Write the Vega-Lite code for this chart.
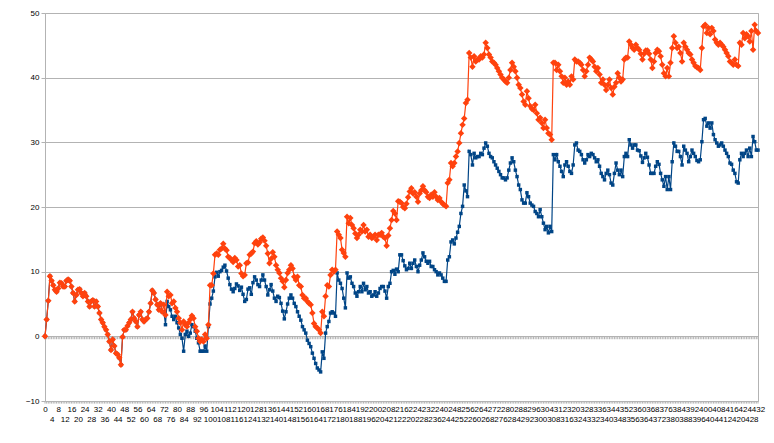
{
"$schema":"https://vega.github.io/schema/vega-lite/v6.json",
"width":713,"height":388,
"autosize":"none",
"padding":{"left":45,"top":13,"right":16,"bottom":42},
"config":{"view":{"stroke":"#b3b3b3","strokeWidth":1},"font":"Liberation Sans"},
"data":{"values":[
{"i":0,"a":0,"b":0},{"i":1,"a":2.6,"b":2.6},{"i":2,"a":5.5,"b":5.5},{"i":3,"a":9.3,"b":9.3},{"i":4,"a":8.6,"b":8.6},{"i":5,"a":7.9,"b":7.9},{"i":6,"a":7.2,"b":7.2},{"i":7,"a":6.9,"b":6.9},{"i":8,"a":7.4,"b":7.4},{"i":9,"a":8.3,"b":8.3},
{"i":10,"a":8.2,"b":8.2},{"i":11,"a":7.7,"b":7.7},{"i":12,"a":7.7,"b":7.7},{"i":13,"a":8.6,"b":8.6},{"i":14,"a":8.8,"b":8.8},{"i":15,"a":8.6,"b":8.6},{"i":16,"a":7.7,"b":7.7},{"i":17,"a":6.7,"b":6.7},{"i":18,"a":5.4,"b":5.4},{"i":19,"a":6.4,"b":6.4},
{"i":20,"a":7.2,"b":7.2},{"i":21,"a":7.3,"b":7.3},{"i":22,"a":6.7,"b":6.7},{"i":23,"a":6.2,"b":6.2},{"i":24,"a":6.7,"b":6.7},{"i":25,"a":6.2,"b":6.2},{"i":26,"a":5.4,"b":5.4},{"i":27,"a":4.6,"b":4.6},{"i":28,"a":5.4,"b":5.4},{"i":29,"a":5.6,"b":5.6},
{"i":30,"a":4.6,"b":4.6},{"i":31,"a":5.4,"b":5.4},{"i":32,"a":4.6,"b":4.6},{"i":33,"a":3.6,"b":3.6},{"i":34,"a":2.6,"b":2.6},{"i":35,"a":2.1,"b":2.1},{"i":36,"a":1.5,"b":1.5},{"i":37,"a":1.0,"b":1.0},{"i":38,"a":0.3,"b":0.3},{"i":39,"a":-0.8,"b":-0.8},
{"i":40,"a":-2.1,"b":-2.1},{"i":41,"a":-0.5,"b":-0.5},{"i":42,"a":-1.5,"b":-1.5},{"i":43,"a":-2.6,"b":-2.6},{"i":44,"a":-2.8,"b":-2.8},{"i":45,"a":-3.3,"b":-3.3},{"i":46,"a":-4.4,"b":-4.4},{"i":47,"a":-0.1,"b":-0.1},{"i":48,"a":1.0,"b":1.0},{"i":49,"a":1.0,"b":1.0},
{"i":50,"a":1.6,"b":1.6},{"i":51,"a":2.1,"b":2.1},{"i":52,"a":2.6,"b":2.6},{"i":53,"a":3.8,"b":3.8},{"i":54,"a":2.8,"b":2.8},{"i":55,"a":2.3,"b":2.3},{"i":56,"a":1.5,"b":1.5},{"i":57,"a":3.3,"b":3.3},{"i":58,"a":3.8,"b":3.8},{"i":59,"a":2.6,"b":2.6},
{"i":60,"a":2.3,"b":2.3},{"i":61,"a":2.6,"b":2.6},{"i":62,"a":2.8,"b":2.8},{"i":63,"a":3.8,"b":3.8},{"i":64,"a":5.1,"b":5.1},{"i":65,"a":7.1,"b":7.1},{"i":66,"a":6.7,"b":6.7},{"i":67,"a":5.7,"b":5.7},{"i":68,"a":4.9,"b":4.9},{"i":69,"a":4.1,"b":4.1},
{"i":70,"a":5.1,"b":5.1},{"i":71,"a":3.8,"b":3.8},{"i":72,"a":4.9,"b":3.8},{"i":73,"a":3.3,"b":1.8},{"i":74,"a":6.9,"b":5.4},{"i":75,"a":6.2,"b":4.6},{"i":76,"a":6.4,"b":4.1},{"i":77,"a":5.1,"b":3.1},{"i":78,"a":5.4,"b":2.6},{"i":79,"a":4.4,"b":3.1},
{"i":80,"a":3.8,"b":2.1},{"i":81,"a":2.8,"b":1.3},{"i":82,"a":2.1,"b":0.3},{"i":83,"a":1.0,"b":-0.3},{"i":84,"a":2.3,"b":-2.3},{"i":85,"a":1.8,"b":0.3},{"i":86,"a":1.5,"b":0.8},{"i":87,"a":2.1,"b":0.0},{"i":88,"a":2.6,"b":0.5},{"i":89,"a":3.2,"b":1.8},
{"i":90,"a":2.8,"b":1.5},{"i":91,"a":1.5,"b":0.8},{"i":92,"a":0.8,"b":-0.3},{"i":93,"a":-0.3,"b":-1.0},{"i":94,"a":-0.8,"b":-2.3},{"i":95,"a":-0.5,"b":-2.3},{"i":96,"a":-0.8,"b":-2.3},{"i":97,"a":0.3,"b":-1.5},{"i":98,"a":-0.3,"b":-2.3},{"i":99,"a":1.8,"b":1.5},
{"i":100,"a":7.9,"b":5.0},{"i":101,"a":7.9,"b":5.9},{"i":102,"a":9.7,"b":7.0},{"i":103,"a":12.6,"b":9.2},{"i":104,"a":12.8,"b":9.9},{"i":105,"a":12.6,"b":9.3},{"i":106,"a":13.4,"b":10.0},{"i":107,"a":13.6,"b":10.2},{"i":108,"a":14.3,"b":10.7},{"i":109,"a":13.6,"b":11.0},
{"i":110,"a":13.3,"b":10.1},{"i":111,"a":12.3,"b":9.0},{"i":112,"a":12.1,"b":8.0},{"i":113,"a":11.8,"b":7.3},{"i":114,"a":11.5,"b":6.9},{"i":115,"a":12.1,"b":7.4},{"i":116,"a":11.8,"b":8.1},{"i":117,"a":10.8,"b":7.8},{"i":118,"a":11.0,"b":7.1},{"i":119,"a":9.7,"b":7.6},
{"i":120,"a":9.3,"b":6.5},{"i":121,"a":9.5,"b":5.4},{"i":122,"a":11.3,"b":5.7},{"i":123,"a":11.4,"b":7.3},{"i":124,"a":12.6,"b":7.5},{"i":125,"a":12.8,"b":6.5},{"i":126,"a":13.1,"b":8.3},{"i":127,"a":14.4,"b":9.2},{"i":128,"a":14.7,"b":8.7},{"i":129,"a":14.2,"b":8.0},
{"i":130,"a":14.5,"b":7.7},{"i":131,"a":15.1,"b":8.7},{"i":132,"a":15.3,"b":9.5},{"i":133,"a":14.8,"b":8.7},{"i":134,"a":14.0,"b":7.7},{"i":135,"a":12.8,"b":6.4},{"i":136,"a":11.3,"b":7.2},{"i":137,"a":12.0,"b":8.0},{"i":138,"a":13.0,"b":7.0},{"i":139,"a":12.3,"b":5.9},
{"i":140,"a":11.0,"b":5.4},{"i":141,"a":10.3,"b":6.2},{"i":142,"a":9.8,"b":6.0},{"i":143,"a":9.0,"b":5.1},{"i":144,"a":8.5,"b":3.9},{"i":145,"a":7.6,"b":2.7},{"i":146,"a":8.7,"b":3.8},{"i":147,"a":9.8,"b":5.0},{"i":148,"a":10.3,"b":5.9},{"i":149,"a":11.0,"b":6.4},
{"i":150,"a":10.5,"b":5.9},{"i":151,"a":9.2,"b":5.1},{"i":152,"a":8.7,"b":4.6},{"i":153,"a":9.2,"b":3.8},{"i":154,"a":7.9,"b":3.1},{"i":155,"a":7.7,"b":2.5},{"i":156,"a":6.4,"b":1.5},{"i":157,"a":5.9,"b":1.0},{"i":158,"a":5.9,"b":0.5},{"i":159,"a":5.4,"b":-0.6},
{"i":160,"a":5.1,"b":-1.1},{"i":161,"a":4.9,"b":-1.6},{"i":162,"a":3.6,"b":-2.6},{"i":163,"a":2.0,"b":-3.4},{"i":164,"a":1.5,"b":-4.2},{"i":165,"a":1.3,"b":-4.9},{"i":166,"a":1.0,"b":-5.2},{"i":167,"a":0.5,"b":-5.5},{"i":168,"a":3.8,"b":-2.4},{"i":169,"a":3.1,"b":-3.4},
{"i":170,"a":6.2,"b":0.5},{"i":171,"a":7.9,"b":1.5},{"i":172,"a":7.7,"b":2.3},{"i":173,"a":9.5,"b":3.6},{"i":174,"a":10.3,"b":3.8},{"i":175,"a":10.0,"b":3.6},{"i":176,"a":10.3,"b":3.1},{"i":177,"a":16.2,"b":9.8},{"i":178,"a":15.7,"b":8.7},{"i":179,"a":15.2,"b":8.2},
{"i":180,"a":13.4,"b":7.4},{"i":181,"a":12.9,"b":5.9},{"i":182,"a":12.3,"b":4.4},{"i":183,"a":18.5,"b":9.8},{"i":184,"a":17.5,"b":9.0},{"i":185,"a":18.3,"b":9.2},{"i":186,"a":17.2,"b":8.2},{"i":187,"a":16.7,"b":7.7},{"i":188,"a":15.9,"b":6.7},{"i":189,"a":15.2,"b":6.2},
{"i":190,"a":15.7,"b":6.9},{"i":191,"a":16.5,"b":7.7},{"i":192,"a":16.2,"b":6.9},{"i":193,"a":17.2,"b":8.2},{"i":194,"a":16.2,"b":7.2},{"i":195,"a":16.5,"b":7.7},{"i":196,"a":15.4,"b":6.7},{"i":197,"a":15.7,"b":6.9},{"i":198,"a":15.2,"b":6.2},{"i":199,"a":15.4,"b":6.4},
{"i":200,"a":15.7,"b":6.9},{"i":201,"a":14.9,"b":6.2},{"i":202,"a":15.7,"b":6.7},{"i":203,"a":15.7,"b":7.4},{"i":204,"a":16.0,"b":7.7},{"i":205,"a":15.4,"b":7.7},{"i":206,"a":15.2,"b":7.0},{"i":207,"a":14.0,"b":5.9},{"i":208,"a":15.6,"b":7.7},{"i":209,"a":16.7,"b":8.2},
{"i":210,"a":18.0,"b":10.0},{"i":211,"a":19.4,"b":10.2},{"i":212,"a":19.0,"b":9.6},{"i":213,"a":18.0,"b":10.4},{"i":214,"a":20.9,"b":10.0},{"i":215,"a":20.8,"b":12.6},{"i":216,"a":20.6,"b":12.6},{"i":217,"a":20.0,"b":11.7},{"i":218,"a":19.8,"b":10.9},{"i":219,"a":20.5,"b":10.3},
{"i":220,"a":21.5,"b":10.5},{"i":221,"a":22.4,"b":11.3},{"i":222,"a":22.9,"b":10.5},{"i":223,"a":22.1,"b":11.3},{"i":224,"a":22.3,"b":11.8},{"i":225,"a":21.6,"b":10.8},{"i":226,"a":20.8,"b":10.0},{"i":227,"a":22.1,"b":11.0},{"i":228,"a":22.6,"b":11.8},{"i":229,"a":23.2,"b":12.9},
{"i":230,"a":22.6,"b":12.3},{"i":231,"a":22.3,"b":11.6},{"i":232,"a":21.6,"b":11.3},{"i":233,"a":21.4,"b":11.6},{"i":234,"a":21.9,"b":10.8},{"i":235,"a":21.6,"b":10.8},{"i":236,"a":22.3,"b":10.3},{"i":237,"a":21.6,"b":10.0},{"i":238,"a":21.1,"b":9.5},{"i":239,"a":21.4,"b":9.8},
{"i":240,"a":20.8,"b":9.5},{"i":241,"a":20.5,"b":9.0},{"i":242,"a":20.3,"b":8.5},{"i":243,"a":20.1,"b":8.5},{"i":244,"a":23.7,"b":11.8},{"i":245,"a":24.2,"b":12.3},{"i":246,"a":26.8,"b":14.6},{"i":247,"a":26.3,"b":14.9},{"i":248,"a":26.8,"b":14.3},{"i":249,"a":27.8,"b":15.2},
{"i":250,"a":28.6,"b":16.1},{"i":251,"a":29.9,"b":17.0},{"i":252,"a":31.4,"b":19.0},{"i":253,"a":32.7,"b":20.1},{"i":254,"a":33.7,"b":23.4},{"i":255,"a":36.1,"b":22.5},{"i":256,"a":36.6,"b":21.6},{"i":257,"a":43.8,"b":28.6},{"i":258,"a":43.1,"b":28.1},{"i":259,"a":41.7,"b":26.5},
{"i":260,"a":43.3,"b":28.3},{"i":261,"a":42.5,"b":27.6},{"i":262,"a":42.8,"b":27.8},{"i":263,"a":42.8,"b":27.8},{"i":264,"a":43.3,"b":28.3},{"i":265,"a":43.1,"b":28.1},{"i":266,"a":43.6,"b":29.1},{"i":267,"a":45.4,"b":29.9},{"i":268,"a":44.6,"b":29.4},{"i":269,"a":43.6,"b":28.3},
{"i":270,"a":43.1,"b":27.8},{"i":271,"a":42.5,"b":27.6},{"i":272,"a":42.3,"b":27.0},{"i":273,"a":42.0,"b":26.5},{"i":274,"a":41.5,"b":26.0},{"i":275,"a":41.0,"b":25.5},{"i":276,"a":40.5,"b":25.0},{"i":277,"a":40.0,"b":24.5},{"i":278,"a":39.7,"b":24.5},{"i":279,"a":39.4,"b":24.2},
{"i":280,"a":39.2,"b":24.5},{"i":281,"a":40.0,"b":25.7},{"i":282,"a":41.2,"b":26.8},{"i":283,"a":42.3,"b":27.6},{"i":284,"a":41.7,"b":27.0},{"i":285,"a":41.0,"b":25.7},{"i":286,"a":40.0,"b":24.7},{"i":287,"a":38.9,"b":23.4},{"i":288,"a":38.4,"b":22.7},{"i":289,"a":37.4,"b":21.1},
{"i":290,"a":36.3,"b":20.6},{"i":291,"a":35.8,"b":20.6},{"i":292,"a":37.9,"b":22.2},{"i":293,"a":36.8,"b":21.6},{"i":294,"a":35.6,"b":20.6},{"i":295,"a":35.2,"b":20.3},{"i":296,"a":35.0,"b":20.1},{"i":297,"a":35.8,"b":19.3},{"i":298,"a":34.5,"b":19.0},{"i":299,"a":33.5,"b":18.5},
{"i":300,"a":33.8,"b":19.6},{"i":301,"a":33.0,"b":18.5},{"i":302,"a":32.2,"b":17.5},{"i":303,"a":33.5,"b":16.5},{"i":304,"a":32.2,"b":17.0},{"i":305,"a":31.4,"b":16.0},{"i":306,"a":31.2,"b":17.0},{"i":307,"a":30.4,"b":16.2},{"i":308,"a":42.3,"b":28.1},{"i":309,"a":42.3,"b":27.3},
{"i":310,"a":41.2,"b":28.1},{"i":311,"a":42.0,"b":27.0},{"i":312,"a":41.0,"b":26.3},{"i":313,"a":40.2,"b":25.5},{"i":314,"a":39.2,"b":24.7},{"i":315,"a":40.0,"b":26.5},{"i":316,"a":38.9,"b":27.0},{"i":317,"a":39.4,"b":26.3},{"i":318,"a":38.9,"b":25.5},{"i":319,"a":40.2,"b":25.2},
{"i":320,"a":39.7,"b":26.5},{"i":321,"a":42.8,"b":29.6},{"i":322,"a":42.5,"b":29.9},{"i":323,"a":42.5,"b":28.8},{"i":324,"a":42.3,"b":28.6},{"i":325,"a":42.0,"b":28.1},{"i":326,"a":41.2,"b":27.3},{"i":327,"a":40.2,"b":26.8},{"i":328,"a":41.0,"b":27.3},{"i":329,"a":42.0,"b":28.1},
{"i":330,"a":43.1,"b":27.8},{"i":331,"a":42.8,"b":28.3},{"i":332,"a":42.5,"b":28.1},{"i":333,"a":41.7,"b":27.6},{"i":334,"a":41.0,"b":27.0},{"i":335,"a":41.5,"b":27.3},{"i":336,"a":40.5,"b":26.3},{"i":337,"a":39.2,"b":25.2},{"i":338,"a":39.7,"b":24.7},{"i":339,"a":38.9,"b":24.2},
{"i":340,"a":38.1,"b":25.2},{"i":341,"a":38.9,"b":25.7},{"i":342,"a":39.7,"b":25.0},{"i":343,"a":38.4,"b":23.7},{"i":344,"a":37.4,"b":23.4},{"i":345,"a":38.6,"b":25.2},{"i":346,"a":39.2,"b":26.8},{"i":347,"a":40.7,"b":25.7},{"i":348,"a":40.0,"b":25.0},{"i":349,"a":39.4,"b":25.7},
{"i":350,"a":39.7,"b":24.7},{"i":351,"a":42.8,"b":27.8},{"i":352,"a":43.1,"b":28.3},{"i":353,"a":43.1,"b":27.8},{"i":354,"a":45.6,"b":30.4},{"i":355,"a":45.1,"b":29.6},{"i":356,"a":44.6,"b":29.1},{"i":357,"a":44.3,"b":29.6},{"i":358,"a":45.1,"b":29.6},{"i":359,"a":44.6,"b":28.8},
{"i":360,"a":44.3,"b":28.7},{"i":361,"a":43.7,"b":27.9},{"i":362,"a":42.8,"b":26.9},{"i":363,"a":43.7,"b":27.6},{"i":364,"a":44.2,"b":28.3},{"i":365,"a":44.2,"b":27.7},{"i":366,"a":43.7,"b":26.5},{"i":367,"a":42.8,"b":25.2},{"i":368,"a":41.5,"b":25.2},{"i":369,"a":42.5,"b":25.2},
{"i":370,"a":43.8,"b":26.3},{"i":371,"a":44.3,"b":27.0},{"i":372,"a":44.1,"b":26.6},{"i":373,"a":43.3,"b":25.2},{"i":374,"a":42.0,"b":24.2},{"i":375,"a":40.7,"b":23.2},{"i":376,"a":40.2,"b":24.7},{"i":377,"a":41.5,"b":22.7},{"i":378,"a":40.2,"b":24.7},{"i":379,"a":42.3,"b":22.7},
{"i":380,"a":44.6,"b":27.0},{"i":381,"a":46.4,"b":29.9},{"i":382,"a":45.4,"b":29.4},{"i":383,"a":44.6,"b":28.6},{"i":384,"a":44.8,"b":28.6},{"i":385,"a":43.8,"b":27.8},{"i":386,"a":42.5,"b":26.5},{"i":387,"a":45.4,"b":29.4},{"i":388,"a":44.8,"b":28.8},{"i":389,"a":44.3,"b":28.3},
{"i":390,"a":43.8,"b":27.0},{"i":391,"a":43.6,"b":27.8},{"i":392,"a":42.8,"b":28.8},{"i":393,"a":42.3,"b":28.3},{"i":394,"a":41.8,"b":27.8},{"i":395,"a":41.6,"b":27.2},{"i":396,"a":41.5,"b":27.0},{"i":397,"a":41.2,"b":27.3},{"i":398,"a":44.6,"b":30.1},{"i":399,"a":47.9,"b":33.5},
{"i":400,"a":48.2,"b":33.7},{"i":401,"a":46.9,"b":32.5},{"i":402,"a":47.7,"b":33.0},{"i":403,"a":46.7,"b":32.2},{"i":404,"a":47.7,"b":33.0},{"i":405,"a":47.2,"b":31.2},{"i":406,"a":45.9,"b":30.4},{"i":407,"a":45.4,"b":29.9},{"i":408,"a":45.1,"b":29.4},{"i":409,"a":45.4,"b":29.6},
{"i":410,"a":45.1,"b":29.9},{"i":411,"a":44.8,"b":29.4},{"i":412,"a":44.3,"b":28.8},{"i":413,"a":43.8,"b":28.3},{"i":414,"a":43.3,"b":27.8},{"i":415,"a":42.5,"b":26.8},{"i":416,"a":42.3,"b":26.6},{"i":417,"a":42.0,"b":25.7},{"i":418,"a":42.8,"b":25.2},{"i":419,"a":42.0,"b":23.9},
{"i":420,"a":41.8,"b":23.7},{"i":421,"a":45.4,"b":27.3},{"i":422,"a":45.1,"b":28.3},{"i":423,"a":46.9,"b":27.8},{"i":424,"a":46.1,"b":28.3},{"i":425,"a":46.7,"b":28.8},{"i":426,"a":46.4,"b":27.8},{"i":427,"a":45.6,"b":29.1},{"i":428,"a":47.2,"b":27.8},{"i":429,"a":44.3,"b":30.9},
{"i":430,"a":48.2,"b":30.1},{"i":431,"a":47.2,"b":28.8},{"i":432,"a":46.9,"b":28.8}
]},
"encoding":{"x":{"field":"i","type":"quantitative","scale":{"domain":[0,432],"nice":false,"zero":false},
"axis":{"title":null,"values":[0,4,8,12,16,20,24,28,32,36,40,44,48,52,56,60,64,68,72,76,80,84,88,92,96,100,104,108,112,116,120,124,128,132,136,140,144,148,152,156,160,164,168,172,176,180,184,188,192,196,200,204,208,212,216,220,224,228,232,236,240,244,248,252,256,260,264,268,272,276,280,284,288,292,296,300,304,308,312,316,320,324,328,332,336,340,344,348,352,356,360,364,368,372,376,380,384,388,392,396,400,404,408,412,416,420,424,428,432],
"labelExpr":"datum.value % 8 == 0 ? datum.label : ['', datum.label]","labelOverlap":false,"labelBound":false,"labelFlush":false,"grid":false,"ticks":false,"tickSize":0,"domain":false,"labelPadding":4,"labelFontSize":8,"labelLineHeight":10,"labelColor":"#000000","labelBaseline":"top","format":"d"}}},
"layer":[
{"mark":{"type":"rule","color":"#b3b3b3","strokeWidth":1},"encoding":{"y":{"datum":0,"type":"quantitative","scale":{"domain":[-10,50],"nice":false,"zero":false},"axis":{"title":null,"values":[-10,0,10,20,30,40,50],"grid":true,"gridColor":"#b3b3b3","domain":false,"tickColor":"#b3b3b3","tickSize":4,"labelPadding":2,"labelFontSize":8,"labelColor":"#000000"}},"y2":{"datum":-0.45}}},
{"mark":{"type":"rule","color":"#b3b3b3","strokeWidth":1},"encoding":{"y":{"datum":-10,"type":"quantitative"},"y2":{"datum":-10.4}}},
{"mark":{"type":"line","color":"#004586","strokeWidth":1.2},"encoding":{"y":{"field":"b","type":"quantitative"}}},
{"mark":{"type":"point","shape":"square","filled":true,"size":12,"color":"#004586","opacity":1},"encoding":{"y":{"field":"b","type":"quantitative"}}},
{"mark":{"type":"line","color":"#ff420e","strokeWidth":1.2},"encoding":{"y":{"field":"a","type":"quantitative"}}},
{"mark":{"type":"point","shape":"diamond","filled":true,"size":42,"color":"#ff420e","opacity":1},"encoding":{"y":{"field":"a","type":"quantitative"}}}
]
}
